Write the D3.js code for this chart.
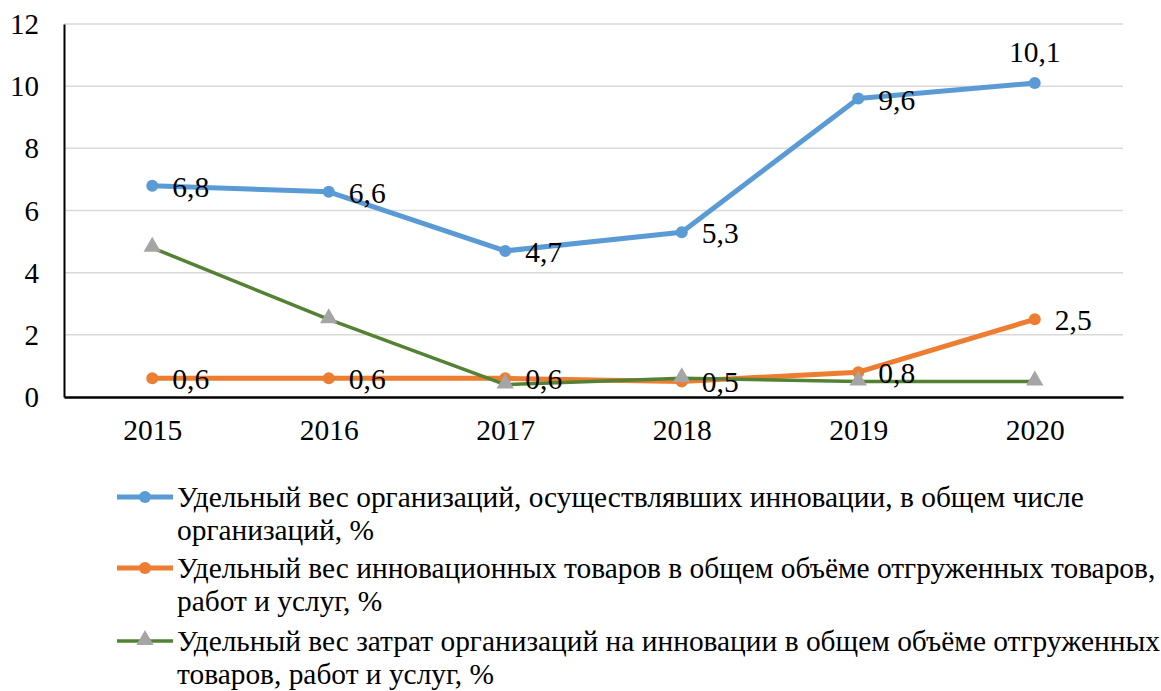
<!DOCTYPE html>
<html><head><meta charset="utf-8">
<script src="https://cdn.jsdelivr.net/npm/d3@7"></script>
<style>body{margin:0;background:#fff}svg{display:block}</style>
</head><body>
<svg id="c" width="1161" height="691"></svg>
<script>
const years = ["2015","2016","2017","2018","2019","2020"];
const seriesOrg = [6.8, 6.6, 4.7, 5.3, 9.6, 10.1];
const seriesGoods = [0.6, 0.6, 0.6, 0.5, 0.8, 2.5];
const seriesCost = [4.8, 2.5, 0.4, 0.6, 0.5, 0.5];
const yTicks = [0, 2, 4, 6, 8, 10, 12];
const legendLines = [
  ["Удельный вес организаций, осуществлявших инновации, в общем числе", "организаций, %"],
  ["Удельный вес инновационных товаров в общем объёме отгруженных товаров,", "работ и услуг, %"],
  ["Удельный вес затрат организаций на инновации в общем объёме отгруженных", "товаров, работ и услуг, %"]
];

const FONT = "Liberation Serif";
const svg = d3.select("#c");
const L = 64, R = 1123, T = 24, B = 397;
const x = d3.scalePoint().domain(years).range([L, R]).padding(0.5);
const y = d3.scaleLinear().domain([0, 12]).range([B, T]);
const fmt = v => String(v).replace(".", ",");

svg.append("g").selectAll("line").data(yTicks.filter(t => t > 0)).join("line")
  .attr("x1", L).attr("x2", R).attr("y1", d => y(d)).attr("y2", d => y(d))
  .attr("stroke", "#D9D9D9").attr("stroke-width", 1.5);

const yAxis = svg.append("g").attr("transform", `translate(${L},0)`)
  .call(d3.axisLeft(y).tickValues(yTicks).tickSize(0).tickPadding(25));
yAxis.attr("font-family", FONT).attr("font-size", 29);
yAxis.select(".domain").attr("stroke", "#000").attr("stroke-width", 2);
yAxis.selectAll("text").attr("font-family", FONT).attr("font-size", 29).attr("fill", "#000").attr("dy", "0.33em");

const xAxis = svg.append("g").attr("transform", `translate(0,${B})`)
  .call(d3.axisBottom(x).tickSize(0).tickPadding(22));
xAxis.attr("font-family", FONT).attr("font-size", 29);
xAxis.select(".domain").attr("stroke", "#000").attr("stroke-width", 2.5);
xAxis.selectAll("text").attr("font-family", FONT).attr("font-size", 29.5).attr("fill", "#000").attr("dy", "0.71em");

const series = [
  {vals: seriesOrg, color: "#5B9BD5", width: 5, marker: "circle", mcolor: "#5B9BD5", labels: true},
  {vals: seriesGoods, color: "#ED7D31", width: 5, marker: "circle", mcolor: "#ED7D31", labels: true},
  {vals: seriesCost, color: "#548235", width: 3.5, marker: "triangle", mcolor: "#A5A5A5", labels: false}
];

const line = d3.line().x((d, i) => x(years[i])).y(d => y(d));
const tri = d3.symbol().type(d3.symbolTriangle).size(130);

series.forEach(s => {
  const g = svg.append("g");
  g.append("path").attr("d", line(s.vals)).attr("fill", "none")
    .attr("stroke", s.color).attr("stroke-width", s.width).attr("stroke-linejoin", "round");
  if (s.marker === "circle") {
    g.selectAll("circle").data(s.vals).join("circle")
      .attr("cx", (d, i) => x(years[i])).attr("cy", d => y(d)).attr("r", 6).attr("fill", s.mcolor);
  } else {
    g.selectAll("path.m").data(s.vals).join("path").attr("class", "m")
      .attr("transform", (d, i) => `translate(${x(years[i])},${y(d) - 1})`)
      .attr("d", tri).attr("fill", s.mcolor);
  }
});

series.filter(s => s.labels).forEach(s => {
  const top = (i) => s === series[0] && i === 5;
  svg.append("g").selectAll("text").data(s.vals).join("text")
    .attr("x", (d, i) => top(i) ? x(years[i]) : x(years[i]) + 20)
    .attr("y", (d, i) => top(i) ? y(d) - 21 : y(d) + 11)
    .attr("text-anchor", (d, i) => top(i) ? "middle" : "start")
    .attr("font-family", FONT).attr("font-size", 29.5).attr("fill", "#000").text(d => fmt(d));
});

const legY = [497, 568, 641];
const lg = svg.append("g");
series.forEach((s, k) => {
  const cy = legY[k];
  lg.append("line").attr("x1", 117).attr("x2", 173).attr("y1", cy).attr("y2", cy)
    .attr("stroke", s.color).attr("stroke-width", s.width);
  if (s.marker === "circle") lg.append("circle").attr("cx", 145).attr("cy", cy).attr("r", 6).attr("fill", s.mcolor);
  else lg.append("path").attr("transform", `translate(145,${cy - 1})`).attr("d", tri).attr("fill", s.mcolor);
  legendLines[k].forEach((t, j) => {
    lg.append("text").attr("x", 177).attr("y", cy + 9.5 + j * 33.5)
      .attr("font-family", FONT).attr("font-size", 29.4).attr("fill", "#000").text(t);
  });
});
</script>
</body></html>
